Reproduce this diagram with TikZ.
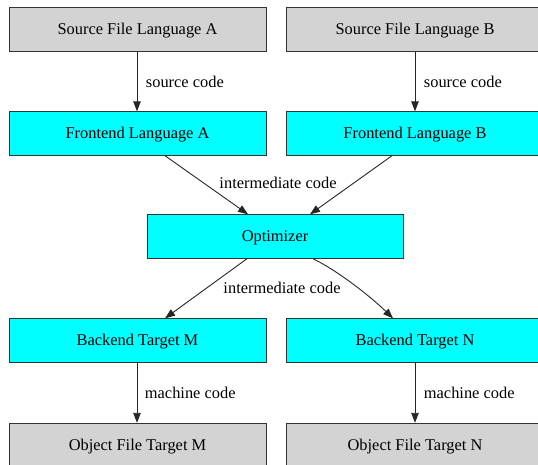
\documentclass[tikz,border=0pt]{standalone}
\usepackage{fontspec}
\setmainfont{Liberation Serif}
\usetikzlibrary{positioning,arrows.meta}
\definecolor{filegray}{HTML}{D3D3D3}
\definecolor{stagecyan}{HTML}{00FFFF}

\begin{document}
\begin{tikzpicture}[x=1pt, y=-1pt,
  box/.style={draw=black!80, line width=0.9pt, minimum width=257pt, minimum height=43.5pt,
    inner sep=0pt, text height=12pt, text depth=1.5pt, font=\fontsize{16.4}{19}\selectfont},
  filebox/.style={box, fill=filegray},
  stagebox/.style={box, fill=stagecyan},
  lbl/.style={font=\fontsize{16.4}{19}\selectfont, inner sep=0pt},
  arr/.style={-{Triangle[length=10pt,width=7.5pt]}, line width=0.9pt, draw=black!85}]
\useasboundingbox (0,0) rectangle (538,464);
% files and stages
\node[filebox] (srcA) at (137.5,29.5) {Source File Language A};
\node[filebox] (srcB) at (415,29.5) {Source File Language B};
\node[stagebox] (frontA) at (137.5,133.5) {Frontend Language A};
\node[stagebox] (frontB) at (415,133.5) {Frontend Language B};
\node[stagebox, minimum width=256pt] (opt) at (275,236.5) {Optimizer};
\node[stagebox] (backM) at (137.5,340.5) {Backend Target M};
\node[stagebox] (backN) at (415,340.5) {Backend Target N};
\node[filebox] (objM) at (137.5,445) {Object File Target M};
\node[filebox] (objN) at (415,445) {Object File Target N};
% connectors
\draw[arr] ([xshift=-0.5pt]srcA.south) -- node[lbl, right=8.5pt] {source code} ([xshift=-0.5pt]frontA.north);
\draw[arr] (srcB.south) -- node[lbl, right=8.5pt] {source code} (frontB.north);
\draw[arr] ([xshift=27.5pt]frontA.south) -- ([xshift=-27pt]opt.north);
\draw[arr] ([xshift=-23pt]frontB.south) -- ([xshift=35pt]opt.north);
\node[lbl] (midcodeA) at (278,183) {intermediate code};
\draw[arr] ([xshift=-28pt]opt.south) -- ([xshift=27.5pt]backM.north);
\draw[arr] ([xshift=38pt]opt.south) .. controls (340,272) and (372,298) .. ([xshift=-22pt]backN.north);
\node[lbl] (midcodeB) at (282,288) {intermediate code};
\draw[arr] ([xshift=-0.5pt]backM.south) -- node[lbl, right=7.5pt] {machine code} ([xshift=-0.5pt]objM.north);
\draw[arr] (backN.south) -- node[lbl, right=8.5pt] {machine code} (objN.north);
\end{tikzpicture}
\end{document}
